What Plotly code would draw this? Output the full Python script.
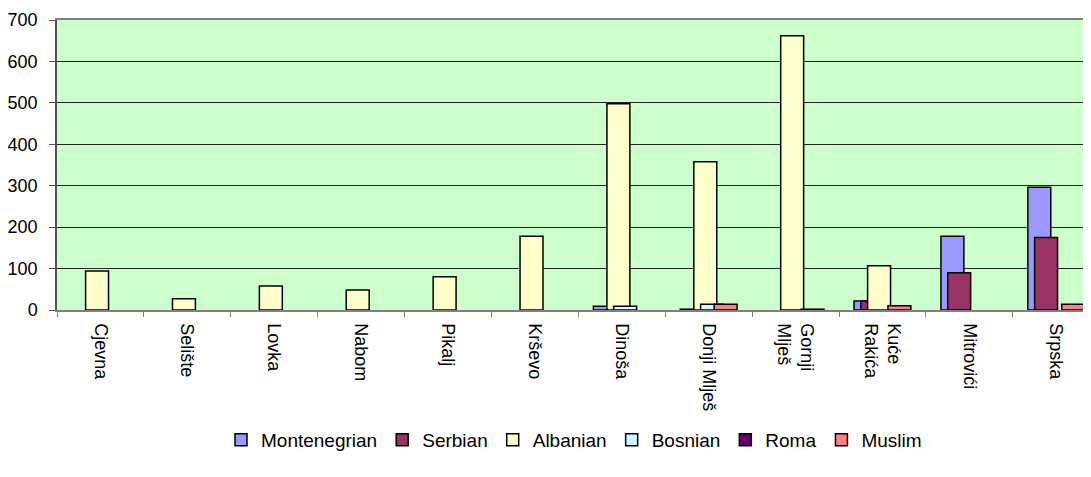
import plotly.graph_objects as go

# ── Datos ──────────────────────────────────────────────────────────────────
villages = ["Cjevna", "Selište", "Lovka", "Nabom", "Pikalj", "Krševo", "Dinoša",
            "Donji Mlješ", "Gornji<br>Mlješ", "Kuće<br>Rakića", "Mitrovići", "Srpska"]

montenegrian = [None, None, None, None, None, None, 9, 2, None, 22, 178, 296]
serbian      = [None, None, None, None, None, None, None, None, None, 22, 90, 175]
albanian     = [94, 27, 58, 48, 80, 178, 498, 358, 662, 107, None, None]
bosnian      = [None, None, None, None, None, None, 9, 14, None, None, None, None]
roma         = [None] * 12
muslim       = [None, None, None, None, None, None, None, 14, 2, 10, None, 14]

series = [
    ("Montenegrian", montenegrian, "#9999FF"),
    ("Serbian", serbian, "#993366"),
    ("Albanian", albanian, "#FFFFCC"),
    ("Bosnian", bosnian, "#CCFFFF"),
    ("Roma", roma, "#660066"),
    ("Muslim", muslim, "#FF8080"),
]

# barras solapadas estilo Excel
BAR_W = 0.264
STEP = 0.078
start = -(5 * STEP + BAR_W) / 2

fig = go.Figure()
for i, (name, vals, color) in enumerate(series):
    fig.add_trace(go.Bar(
        x=villages, y=vals, name=name,
        width=BAR_W, offset=start + i * STEP,
        marker=dict(color=color, line=dict(color="black", width=1.5)),
    ))

# el body del html tiene 8px de margen -> se compensa aqui
fig.update_layout(
    barmode="overlay",
    width=1083, height=469,
    margin=dict(l=49, r=0, t=12, b=167, autoexpand=False),
    paper_bgcolor="white", plot_bgcolor="#CCFFCC",
    font=dict(family="Liberation Sans, Arial, sans-serif", color="black", size=17),
    showlegend=True,
    legend=dict(orientation="h", x=0.5, xanchor="center", y=-0.448, yanchor="middle",
                font=dict(size=19), itemwidth=30, tracegroupgap=0),
)
fig.update_xaxes(
    type="category", range=[-0.5, 11.4], tickangle=90, tickfont=dict(size=18),
    ticks="outside", tickson="boundaries", ticklen=5, tickcolor="#808080",
    ticklabelstandoff=8,
    showline=True, linecolor="#808080", linewidth=1.5, mirror=True,
    showgrid=False, automargin=False,
)
fig.update_yaxes(
    range=[0, 700], dtick=100, tickfont=dict(size=18),
    ticks="outside", ticklen=6, tickcolor="#555", ticklabelstandoff=8,
    showline=True, linecolor="#555", linewidth=1.5,
    showgrid=True, gridcolor="#222", gridwidth=1, zeroline=False, automargin=False,
)

fig.write_html("out.html")
